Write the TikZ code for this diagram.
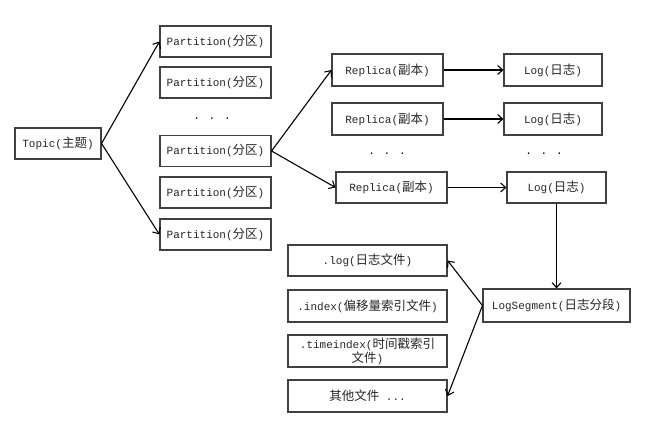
\documentclass[tikz,border=0pt]{standalone}
\usepackage{fontspec}
\setmainfont{Liberation Mono}
\newfontfamily\cjk{Noto Sans CJK SC}
\newcommand{\zh}[1]{{\cjk\fontsize{12.5}{14}\selectfont #1}}
\usetikzlibrary{arrows.meta}
\begin{document}
\begin{tikzpicture}[x=1pt,y=-1pt,
  box/.style={draw=black!75,line width=1.1pt,rectangle,inner sep=0pt,font=\fontsize{11}{13}\selectfont,text=black!85},
  arr/.style={-{Straight Barb[length=5pt,width=9pt]},line width=1.1pt},
  dotstext/.style={font=\fontsize{11}{13}\selectfont}]
\useasboundingbox[fill=white] (0,0) rectangle (650,427);
\node[box,minimum width=86pt,minimum height=31pt] (topic) at (58,143.5) {Topic(\zh{主题})};
\foreach \n/\y in {p1/41.5,p2/82.5,p3/151,p4/192.5,p5/234.5}
  \node[box,minimum width=111pt,minimum height=31pt] (\n) at (215.5,\y) {Partition(\zh{分区})};
\node[dotstext] (pd) at (212,119) {. . .};
\node[box,minimum width=111pt,minimum height=32pt] (r1) at (387.5,70) {Replica(\zh{副本})};
\node[box,minimum width=111pt,minimum height=32pt] (r2) at (387.5,119) {Replica(\zh{副本})};
\node[box,minimum width=111pt,minimum height=31pt] (r3) at (391.5,187.5) {Replica(\zh{副本})};
\node[box,minimum width=98pt,minimum height=32pt] (l1) at (553,70) {Log(\zh{日志})};
\node[box,minimum width=98pt,minimum height=32pt] (l2) at (553,119) {Log(\zh{日志})};
\node[box,minimum width=99pt,minimum height=31pt] (l3) at (556.5,187.5) {Log(\zh{日志})};
\node[dotstext] (rd) at (387,154) {. . .};
\node[dotstext] (ld) at (544,154) {. . .};
\node[box,minimum width=147pt,minimum height=33pt] (seg) at (556.5,305.5) {LogSegment(\zh{日志分段})};
\node[box,minimum width=159pt,minimum height=31pt] (flog) at (367.5,260.5) {.log(\zh{日志文件})};
\node[box,minimum width=159pt,minimum height=32pt] (fidx) at (367.5,306) {.index(\zh{偏移量索引文件})};
\node[box,minimum width=159pt,minimum height=32pt,align=center,font=\fontsize{11}{11}\selectfont] (ftidx) at (367.5,351) {.timeindex(\zh{时间戳索引}\\\zh{文件})};
\node[box,minimum width=159pt,minimum height=32pt] (fother) at (367.5,396) {\zh{其他文件} ...};
\draw[arr] (topic.east) -- (p1.west);
\draw[arr] (topic.east) -- (p5.west);
\draw[arr] (p3.east) -- (r1.west);
\draw[arr] (p3.east) -- (r3.west);
\draw[arr] (r1) -- (l1);
\draw[arr] (r2) -- (l2);
\draw[arr] (r3) -- (l3);
\draw[arr] (l3.south) -- (seg.north);
\draw[arr] (seg.west) -- (flog.east);
\draw[arr] (seg.west) -- (fother.east);
\end{tikzpicture}
\end{document}
